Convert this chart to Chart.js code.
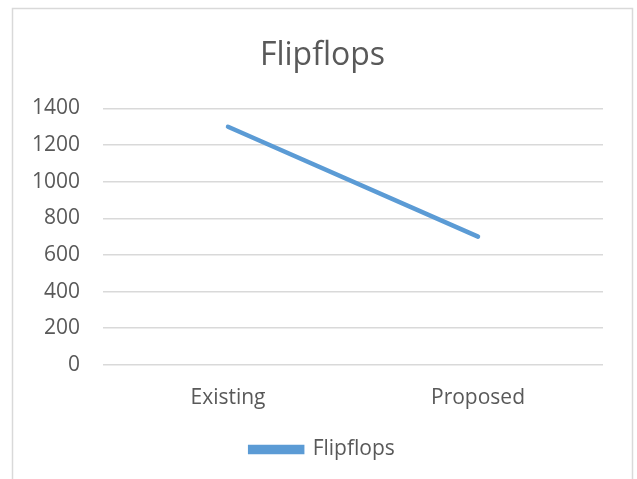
<!DOCTYPE html>
<html>
<head>
<meta charset="utf-8">
<script src="https://cdn.jsdelivr.net/npm/chart.js@4"></script>
<style>
  html, body { margin: 0; padding: 0; background: #fff; }
  #wrap { position: absolute; left: 0; top: 0; width: 637px; height: 479px; }
</style>
</head>
<body>
<div id="wrap"><canvas id="c" width="637" height="479"></canvas></div>
<script>
const categories = ['Existing', 'Proposed'];
const flipflops = [1300, 700];
const seriesName = 'Flipflops';
const chartTitle = 'Flipflops';
const yMin = 0, yMax = 1400, yStep = 200;

const textColor = '#595959';
const gridColor = '#d9d9d9';
const lineColor = '#5b9bd5';
const fontFamily = "'Open Sans', 'Liberation Sans', sans-serif";

const framePlugin = {
  id: 'frame',
  beforeDraw(chart) {
    const ctx = chart.ctx;
    ctx.save();
    ctx.fillStyle = '#fff';
    ctx.fillRect(0, 0, chart.width, chart.height);
    ctx.strokeStyle = '#d9d9d9';
    ctx.lineWidth = 1.5;
    ctx.strokeRect(12.5, 8.5, 620, 480);
    ctx.restore();
  }
};

new Chart(document.getElementById('c'), {
  type: 'line',
  data: {
    labels: categories,
    datasets: [{
      label: seriesName,
      data: flipflops,
      borderColor: lineColor,
      backgroundColor: lineColor,
      borderWidth: 4.5,
      pointRadius: 0,
      pointHoverRadius: 0,
      tension: 0,
      borderCapStyle: 'round',
      yAxisID: 'y'
    }]
  },
  options: {
    responsive: false,
    animation: false,
    devicePixelRatio: 1,
    layout: { padding: { left: 8, right: 0, top: 0, bottom: 9 } },
    plugins: {
      title: {
        display: true,
        text: chartTitle,
        color: textColor,
        font: { family: fontFamily, size: 32, weight: 'normal' },
        padding: { top: 37, bottom: 33 }
      },
      legend: {
        display: true,
        position: 'bottom',
        labels: {
          color: textColor,
          font: { family: fontFamily, size: 21 },
          boxWidth: 52,
          boxHeight: 5,
          padding: 7
        }
      },
      tooltip: { enabled: false }
    },
    scales: {
      x: {
        offset: true,
        grid: { display: false, drawTicks: false },
        border: { display: false },
        ticks: { color: textColor, font: { family: fontFamily, size: 21 }, padding: 21 }
      },
      y: {
        min: yMin,
        max: yMax,
        ticks: {
          stepSize: yStep,
          color: textColor,
          font: { family: fontFamily, size: 21 },
          padding: 23,
          callback: v => String(v)
        },
        grid: { color: gridColor, lineWidth: 1.5, drawTicks: false },
        border: { display: false },
        afterFit(s) { s.width = 95; }
      },
      yRight: {
        position: 'right',
        display: true,
        min: yMin,
        max: yMax,
        grid: { display: false, drawTicks: false },
        border: { display: false },
        ticks: { display: false },
        afterFit(s) { s.width = 34; }
      }
    }
  },
  plugins: [framePlugin]
});
</script>
</body>
</html>
